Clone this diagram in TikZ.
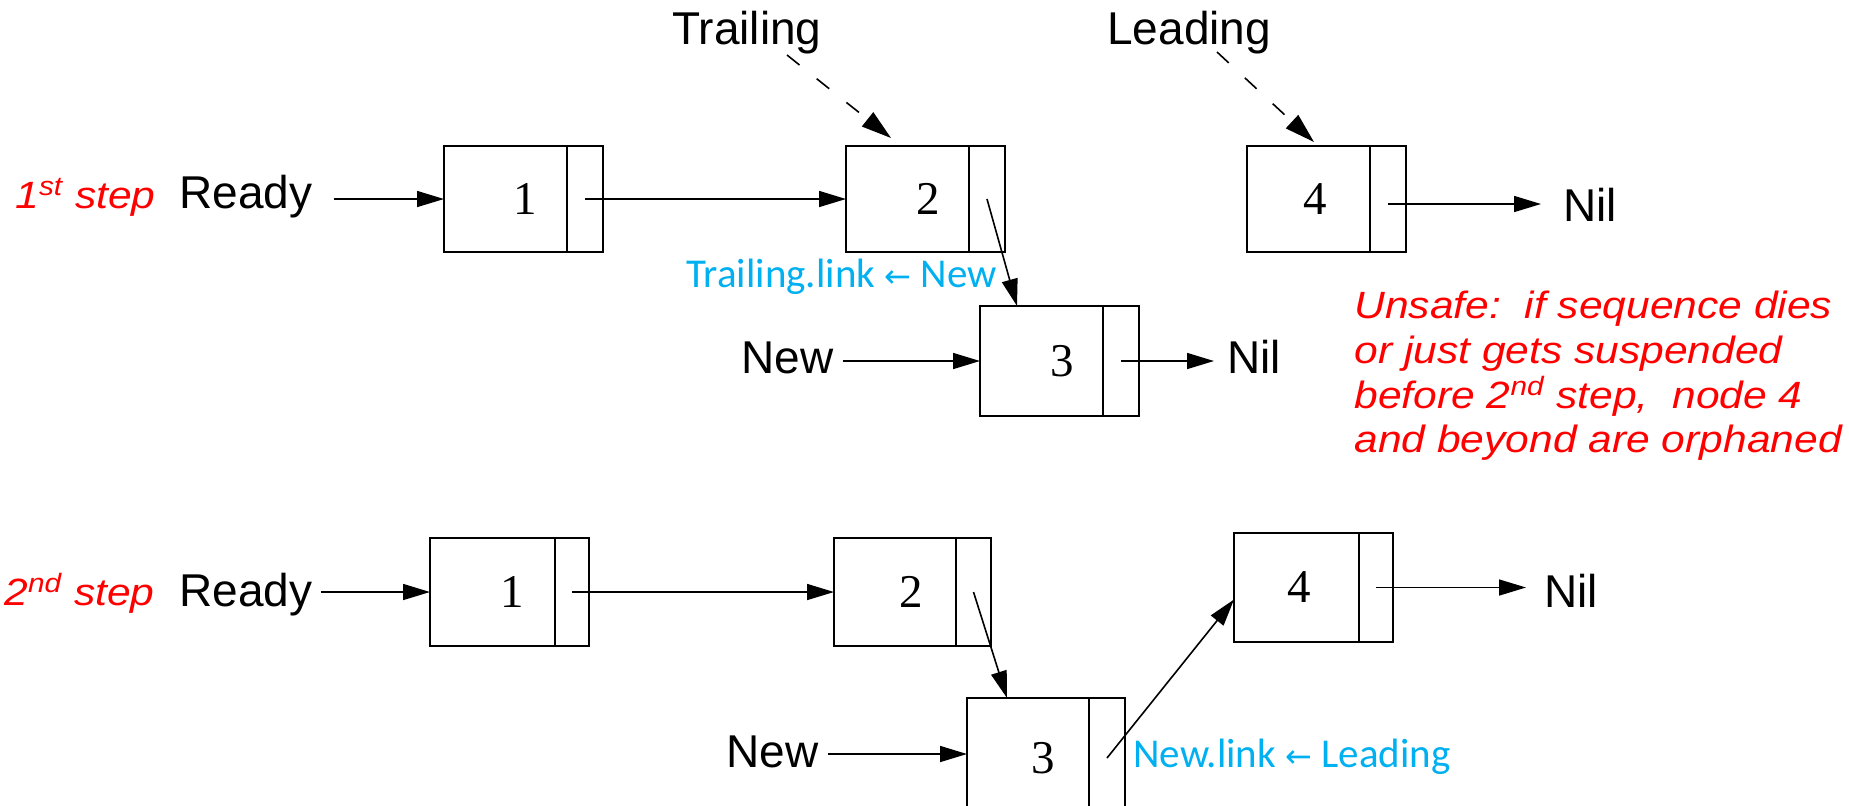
\documentclass[tikz,border=0pt]{standalone}
\usepackage{fontspec}
\setmainfont{Liberation Sans}
\newfontfamily\notefont[FakeStretch=1.12]{Liberation Sans}
\newfontfamily\codefont{Carlito}
\newfontfamily\arrowfont{DejaVu Sans}
\newfontfamily\numfont{Liberation Serif}
\usetikzlibrary{arrows.meta,calc}
\definecolor{notered}{RGB}{255,0,0}
\definecolor{codeblue}{RGB}{0,176,240}

\tikzset{
  lbl/.style={inner sep=0pt, anchor=base west, font=\fontsize{23}{27}\selectfont},
  notelbl/.style={inner sep=0pt, anchor=base west, text=notered,
    font=\notefont\itshape\fontsize{19}{22.5}\selectfont},
  oplbl/.style={inner sep=0pt, anchor=base west, text=codeblue,
    font=\codefont\fontsize{20.5}{24}\selectfont},
  cellmain/.style={draw, line width=1pt, inner sep=0pt, outer sep=0pt, anchor=north west,
    minimum width=61.5pt, minimum height=53pt,
    font=\numfont\fontsize{23.5}{28}\selectfont},
  cellptr/.style={draw, line width=1pt, inner sep=0pt, outer sep=0pt, anchor=north west,
    minimum width=18pt, minimum height=53pt},
  ptr/.style={line width=0.8pt, -{Triangle[length=13.5pt,width=8pt]}},
  refptr/.style={line width=0.8pt, dash pattern=on 8pt off 11pt,
    -{Triangle[length=15pt,width=9pt]}},
}

\begin{document}
\begin{tikzpicture}[x=0.5pt,y=-0.5pt]
\fill[white] (0,0) rectangle (1849,805);
\useasboundingbox (0,0) rectangle (1849,805);
\clip (0,0) rectangle (1849,805);

% ---------- first step ----------
\node[notelbl] (s1) at (15,208) {1\textsuperscript{st} step};
\node[lbl] (rdy1) at (179,208) {Ready};
\node[lbl] (trail) at (672,44) {Trailing};
\node[lbl] (lead) at (1107,44) {Leading};

\node[cellmain] (a1) at (444,146) {\hspace*{20pt}1};
\node[cellptr] (a1p) at (a1.north east) {};
\node[cellmain] (a2) at (846,146) {\hspace*{21pt}2};
\node[cellptr] (a2p) at (a2.north east) {};
\node[cellmain, minimum height=55pt] (a3) at (980,306) {\hspace*{21pt}3};
\node[cellptr, minimum height=55pt] (a3p) at (a3.north east) {};
\node[cellmain] (a4) at (1247,146) {\hspace*{7pt}4};
\node[cellptr] (a4p) at (a4.north east) {};

\node[lbl] (new1) at (741,373) {New};
\node[lbl] (nil3) at (1227,373) {Nil};
\node[lbl] (nil4) at (1563,221) {Nil};
\node[oplbl] (op1) at (686,287) {Trailing.link {\arrowfont\fontsize{16}{20}\selectfont ←} New};

\node[notelbl] (n1) at (1354,318) {Unsafe:\ \ if sequence dies};
\node[notelbl] (n2) at (1354,363) {or just gets suspended};
\node[notelbl] (n3) at (1354,408) {before 2\textsuperscript{nd} step,\ \ node 4};
\node[notelbl] (n4) at (1354,452) {and beyond are orphaned};

\draw[ptr] ($(rdy1.east |- a1.west)+(21,0)$) -- (a1.west);
\draw[ptr] (a1p.center) -- (a2.west);
\draw[ptr] (a2p.center) -- ($(a3.north west)+(37,0)$);
\draw[ptr] ($(new1.east |- a3.west)+(9,0)$) -- (a3.west);
\draw[ptr] (a3p.center) -- ($(nil3.west |- a3p.center)+(-13,0)$);
\draw[ptr] ($(a4p.center)+(0,5)$) -- ($(nil4.west |- a4p.center)+(-22,5)$);
\draw[refptr] ($(trail.base west)+(115,11)$) -- ($(a2.north west)+(45,-8)$);
\draw[refptr] ($(lead.base west)+(110,8)$) -- ($(a4.north west)+(67,-4)$);

% ---------- second step ----------
\node[notelbl] (s2) at (4,605) {2\textsuperscript{nd} step};
\node[lbl] (rdy2) at (179,606) {Ready};

\node[cellmain, minimum width=62.5pt, minimum height=54pt] (b1) at (430,538) {\hspace*{20pt}1};
\node[cellptr, minimum width=17pt, minimum height=54pt] (b1p) at (b1.north east) {};
\node[cellmain, minimum width=61pt, minimum height=54pt] (b2) at (834,538) {\hspace*{16pt}2};
\node[cellptr, minimum width=17.5pt, minimum height=54pt] (b2p) at (b2.north east) {};
\node[cellmain, minimum width=61pt, minimum height=60pt] (b3) at (967,698) {\hspace*{15pt}3};
\node[cellptr, minimum width=18pt, minimum height=60pt] (b3p) at (b3.north east) {};
\node[cellmain, minimum width=62.5pt, minimum height=54.5pt] (b4) at (1234,533) {\hspace*{3pt}4};
\node[cellptr, minimum width=17pt, minimum height=54.5pt] (b4p) at (b4.north east) {};

\node[lbl] (new2) at (726,767) {New};
\node[lbl] (nil5) at (1544,607) {Nil};
\node[oplbl] (op2) at (1133,767) {New.link {\arrowfont\fontsize{16}{20}\selectfont ←} Leading};

\draw[ptr] ($(rdy2.east |- b1.west)+(8,0)$) -- (b1.west);
\draw[ptr] (b1p.center) -- (b2.west);
\draw[ptr] (b2p.center) -- ($(b3.north west)+(40,0)$);
\draw[ptr] ($(new2.east |- b3.west)+(9,-4)$) -- ($(b3.west)+(0,-4)$);
\draw[ptr] (b3p.center) -- ($(b4.west)+(0,12)$);
\draw[ptr] (b4p.center) -- ($(nil5.west |- b4p.center)+(-18,0)$);
\end{tikzpicture}
\end{document}
